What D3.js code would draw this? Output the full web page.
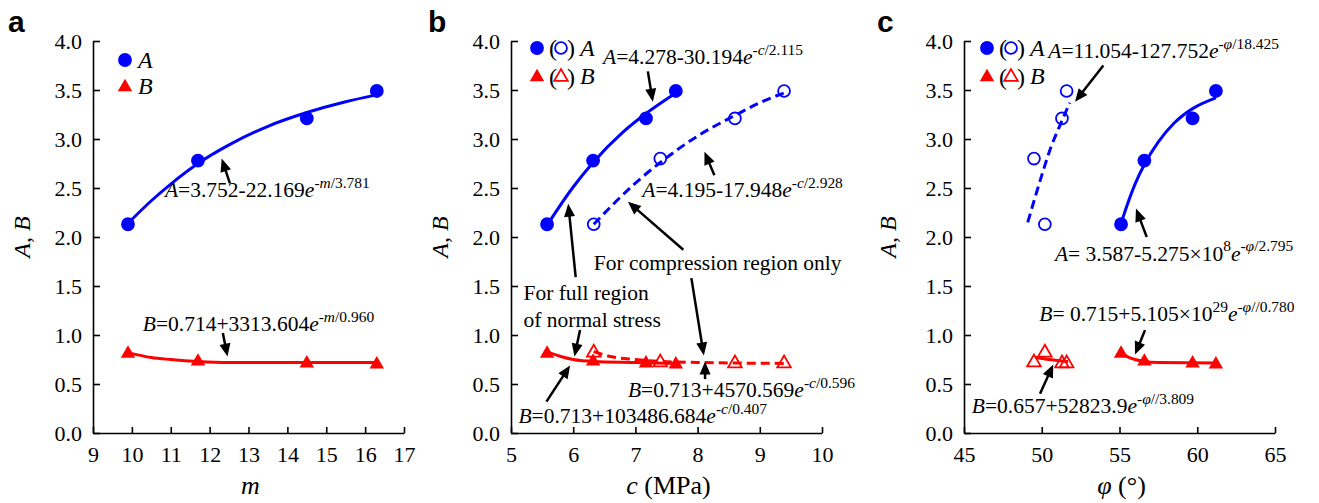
<!DOCTYPE html>
<html lang="en">
<head>
<meta charset="utf-8">
<title>A, B versus m, c and phi</title>
<script src="https://cdn.jsdelivr.net/npm/d3@7"></script>
<style>
body { margin: 0; background: #fff; }
</style>
</head>
<body>
<script>
// ---- values ----
var yTicks = [0, 0.5, 1, 1.5, 2, 2.5, 3, 3.5, 4];
var mTicks = [9, 10, 11, 12, 13, 14, 15, 16, 17];
var cTicks = [5, 6, 7, 8, 9, 10];
var phiTicks = [45, 50, 55, 60, 65];

var mVals   = [9.9, 11.7, 14.5, 16.3];
var cFull   = [5.58, 6.32, 7.17, 7.65];
var cComp   = [6.33, 7.40, 8.60, 9.39];
var phiFull = [55.1, 56.6, 59.7, 61.2];
var phiComp = [50.2, 49.5, 51.3, 51.6];

var aFull = [2.13, 2.78, 3.21, 3.49];
var bFull = [0.81, 0.73, 0.71, 0.70];
var aComp = [2.13, 2.80, 3.21, 3.49];
var bComp = [0.82, 0.72, 0.71, 0.71];

// fitted curves, sampled from the drawn lines
var fitAmX = [9.9, 10.5, 11, 11.7, 12.5, 13.5, 14.5, 15.5, 16.3];
var fitAmY = [2.14, 2.37, 2.54, 2.75, 2.94, 3.13, 3.27, 3.38, 3.45];
var fitBmX = [9.9, 10.5, 11, 11.7, 12.5, 16.3];
var fitBmY = [0.82, 0.77, 0.75, 0.73, 0.72, 0.72];

var fitAcFullX = [5.58, 6.0, 6.32, 6.8, 7.17, 7.65];
var fitAcFullY = [2.12, 2.51, 2.76, 3.07, 3.26, 3.47];
var fitAcCompX = [6.33, 7.0, 7.4, 8.0, 8.6, 9.0, 9.39];
var fitAcCompY = [2.13, 2.55, 2.76, 3.03, 3.24, 3.37, 3.47];
var fitBcFullX = [5.58, 5.8, 6.0, 6.33, 7.0, 7.65];
var fitBcFullY = [0.83, 0.78, 0.75, 0.73, 0.72, 0.71];
var fitBcCompX = [6.33, 6.6, 7.0, 7.4, 8.0, 9.39];
var fitBcCompY = [0.83, 0.78, 0.75, 0.73, 0.72, 0.71];

var fitApFullX = [55.1, 55.5, 56, 56.6, 57.5, 58.5, 59.7, 61.2];
var fitApFullY = [2.14, 2.33, 2.54, 2.74, 2.97, 3.16, 3.31, 3.42];
var fitApCompX = [49.1, 49.6, 50.1, 50.6, 51.2, 51.8];
var fitApCompY = [2.15, 2.42, 2.68, 2.92, 3.15, 3.37];
var fitBpFullX = [55.1, 55.5, 56, 56.6, 57.5, 61.2];
var fitBpFullY = [0.82, 0.78, 0.75, 0.73, 0.72, 0.715];
var fitBpCompX = [49.6, 50, 50.5, 51, 51.7];
var fitBpCompY = [0.77, 0.76, 0.75, 0.74, 0.73];

// ---- layout ----
var blue = "#0000ff", red = "#ff0000";
var serif = "'Liberation Serif', 'Times New Roman', Times, serif";
var sans = "'Liberation Sans', Arial, Helvetica, sans-serif";
var svg = d3.select("body").append("svg")
    .attr("width", 1319).attr("height", 503)
    .style("font-family", serif);

var y = d3.scaleLinear().domain([0, 4]).range([433, 41]);

function zip(xs, ys) { return xs.map(function(v, i) { return [v, ys[i]]; }); }

var panels = [
  {
    letter: "a", letterX: 8, titleX: 30,
    x: d3.scaleLinear().domain([9, 17]).range([93, 404]),
    ticks: mTicks, xTitle: [["m", true]],
    lines: [
      { d: zip(fitAmX, fitAmY), color: blue },
      { d: zip(fitBmX, fitBmY), color: red }
    ],
    marks: [
      { d: zip(mVals, aFull), shape: "circle", open: false, color: blue },
      { d: zip(mVals, bFull), shape: "triangle", open: false, color: red }
    ],
    legend: { x: 125, paren: false },
    notes: [
      { eq: "*A*=3.752-22.169*e*^{-*m*/3.781}", at: [10.85, 2.41] },
      { eq: "*B*=0.714+3313.604*e*^{-*m*/0.960}", at: [10.28, 1.04] }
    ],
    arrows: [
      [[12.52, 2.55], [12.31, 2.80]],
      [[12.34, 1.02], [12.46, 0.78]]
    ]
  },
  {
    letter: "b", letterX: 428, titleX: 448,
    x: d3.scaleLinear().domain([5, 10]).range([511, 822]),
    ticks: cTicks, xTitle: [["c", true], [" (MPa)", false]],
    lines: [
      { d: zip(fitAcFullX, fitAcFullY), color: blue },
      { d: zip(fitAcCompX, fitAcCompY), color: blue, dash: true },
      { d: zip(fitBcFullX, fitBcFullY), color: red },
      { d: zip(fitBcCompX, fitBcCompY), color: red, dash: true }
    ],
    marks: [
      { d: zip(cFull, aFull), shape: "circle", open: false, color: blue },
      { d: zip(cComp, aComp), shape: "circle", open: true, color: blue },
      { d: zip(cComp, bComp), shape: "triangle", open: true, color: red },
      { d: zip(cFull, bFull), shape: "triangle", open: false, color: red }
    ],
    legend: { x: 537, paren: true },
    notes: [
      { eq: "*A*=4.278-30.194*e*^{-*c*/2.115}", at: [6.48, 3.77] },
      { eq: "*A*=4.195-17.948*e*^{-*c*/2.928}", at: [7.11, 2.41] },
      { eq: "For compression region only", at: [6.33, 1.66] },
      { eq: "For full region", at: [5.20, 1.36] },
      { eq: "of normal stress", at: [5.20, 1.08] },
      { eq: "*B*=0.713+4570.569*e*^{-*c*/0.596}", at: [6.88, 0.37] },
      { eq: "*B*=0.713+103486.684*e*^{-*c*/0.407}", at: [5.12, 0.10] }
    ],
    arrows: [
      [[7.20, 3.69], [7.28, 3.38]],
      [[8.27, 2.63], [8.11, 2.87]],
      [[6.04, 1.59], [5.92, 2.34]],
      [[7.77, 1.87], [6.88, 2.36]],
      [[7.90, 1.58], [8.10, 0.79]],
      [[8.12, 0.55], [8.12, 0.73]],
      [[6.11, 1.05], [6.02, 0.78]],
      [[5.57, 0.32], [5.95, 0.69]]
    ]
  },
  {
    letter: "c", letterX: 877, titleX: 896,
    x: d3.scaleLinear().domain([45, 65]).range([964, 1275]),
    ticks: phiTicks, xTitle: [["\u03c6", true], [" (\u00b0)", false]],
    lines: [
      { d: zip(fitApFullX, fitApFullY), color: blue },
      { d: zip(fitApCompX, fitApCompY), color: blue, dash: true },
      { d: zip(fitBpFullX, fitBpFullY), color: red },
      { d: zip(fitBpCompX, fitBpCompY), color: red }
    ],
    marks: [
      { d: zip(phiFull, aFull), shape: "circle", open: false, color: blue },
      { d: zip(phiComp, aComp), shape: "circle", open: true, color: blue },
      { d: zip(phiComp, bComp), shape: "triangle", open: true, color: red },
      { d: zip(phiFull, bFull), shape: "triangle", open: false, color: red }
    ],
    legend: { x: 987, paren: true },
    notes: [
      { eq: "*A*=11.054-127.752*e*^{-*\u03c6*/18.425}", at: [50.42, 3.83] },
      { eq: "*A*= 3.587-5.275\u00d710^{8}*e*^{-*\u03c6*/2.795}", at: [50.85, 1.76] },
      { eq: "*B*= 0.715+5.105\u00d710^{29}*e*^{-*\u03c6*//0.780}", at: [49.84, 1.14] },
      { eq: "*B*=0.657+52823.9*e*^{-*\u03c6*//3.809}", at: [45.5, 0.20] }
    ],
    arrows: [
      [[53.96, 3.75], [52.14, 3.38]],
      [[56.75, 2.00], [56.06, 2.29]],
      [[56.64, 1.05], [56.0, 0.80]],
      [[49.89, 0.40], [50.74, 0.70]]
    ]
  }
];

// parse "*italic*" and "^{sup}" into tspans
function eqText(g, px, py, src, size) {
  var t = g.append("text").attr("x", px).attr("y", py)
    .style("font-family", serif).style("font-size", size + "px");
  var ital = false, sup = false, buf = "", curSup = false;
  function flush() {
    if (!buf) return;
    var s = t.append("tspan").text(buf);
    if (ital) s.style("font-style", "italic");
    if (sup) s.style("font-size", (size * 0.72) + "px");
    if (sup !== curSup) { s.attr("dy", sup ? -size * 0.42 : size * 0.42); curSup = sup; }
    buf = "";
  }
  for (var i = 0; i < src.length; i++) {
    var ch = src[i];
    if (ch === "*") { flush(); ital = !ital; }
    else if (ch === "^" && src[i + 1] === "{") { flush(); sup = true; i++; }
    else if (ch === "}" && sup) { flush(); sup = false; }
    else buf += ch;
  }
  flush();
  return t;
}

function arrow(g, x1, y1, x2, y2) {
  var dx = x2 - x1, dy = y2 - y1, L = Math.hypot(dx, dy), ux = dx / L, uy = dy / L;
  var hl = 13, hw = 5.5;
  var bx = x2 - ux * hl, by = y2 - uy * hl;
  g.append("line")
    .attr("x1", x1).attr("y1", y1).attr("x2", bx + ux * 2).attr("y2", by + uy * 2)
    .attr("stroke", "#000").attr("stroke-width", 2.5);
  g.append("path")
    .attr("d", "M" + x2 + "," + y2 + "L" + (bx - uy * hw) + "," + (by + ux * hw) +
               "L" + (bx + uy * hw) + "," + (by - ux * hw) + "Z")
    .attr("fill", "#000");
}

var circleSym = d3.symbol().type(d3.symbolCircle);
var triSym = d3.symbol().type(d3.symbolTriangle);

function marker(g, shape, open, color, px, py) {
  var p = g.append("path").attr("transform", "translate(" + px + "," + py + ")");
  if (shape === "circle") p.attr("d", circleSym.size(open ? 110 : 150)());
  else p.attr("d", triSym.size(open ? 80 : 90)());
  if (open) p.attr("fill", "none").attr("stroke", color).attr("stroke-width", 1.8);
  else p.attr("fill", color);
}

panels.forEach(function(p) {
  var g = svg.append("g");
  var x = p.x;

  // axes
  var ya = g.append("g").attr("transform", "translate(" + x.range()[0] + ",0)")
    .call(d3.axisLeft(y).tickValues(yTicks).tickFormat(d3.format(".1f"))
      .tickSizeInner(-7).tickSizeOuter(0).tickPadding(11));
  var xa = g.append("g").attr("transform", "translate(0," + y.range()[0] + ")")
    .call(d3.axisBottom(x).tickValues(p.ticks).tickFormat(d3.format("d"))
      .tickSizeInner(-6).tickSizeOuter(0).tickPadding(13));
  [ya, xa].forEach(function(a) {
    a.style("font-family", serif).style("font-size", "22px");
    a.selectAll("path, line").attr("stroke", "#000").attr("stroke-width", 1.6);
  });

  // panel letter
  g.append("text").attr("x", p.letterX).attr("y", 32)
    .style("font-family", sans)
    .style("font-weight", "bold").style("font-size", "30px").text(p.letter);

  // axis titles
  var yt = g.append("text")
    .attr("transform", "translate(" + p.titleX + "," + y(2) + ") rotate(-90)")
    .attr("text-anchor", "middle").style("font-size", "24px").style("font-style", "italic");
  yt.append("tspan").text("A");
  yt.append("tspan").style("font-style", "normal").text(", ");
  yt.append("tspan").text("B");

  var xt = g.append("text")
    .attr("x", (x.range()[0] + x.range()[1]) / 2 + 2).attr("y", 494)
    .attr("text-anchor", "middle").style("font-size", "26px");
  p.xTitle.forEach(function(s) {
    xt.append("tspan").style("font-style", s[1] ? "italic" : "normal").text(s[0]);
  });

  // fitted lines
  var line = d3.line().x(function(d) { return x(d[0]); }).y(function(d) { return y(d[1]); })
    .curve(d3.curveMonotoneX);
  p.lines.forEach(function(l) {
    g.append("path").attr("d", line(l.d)).attr("fill", "none")
      .attr("stroke", l.color).attr("stroke-width", 3)
      .attr("stroke-dasharray", l.dash ? "9,5" : null);
  });

  // data markers
  p.marks.forEach(function(m) {
    m.d.forEach(function(d) { marker(g, m.shape, m.open, m.color, x(d[0]), y(d[1])); });
  });

  // legend
  var lx = p.legend.x, rows = p.legend.paren ? [48, 77] : [60, 87];
  marker(g, "circle", false, blue, lx, rows[0]);
  marker(g, "triangle", false, red, lx, rows[1]);
  var labelX = lx + 13;
  if (p.legend.paren) {
    [[rows[0], "circle", blue], [rows[1], "triangle", red]].forEach(function(r) {
      g.append("text").attr("x", lx + 12).attr("y", r[0] + 8).style("font-size", "24px").text("(");
      marker(g, r[1], true, r[2], lx + 24, r[0]);
      g.append("text").attr("x", lx + 30).attr("y", r[0] + 8).style("font-size", "24px").text(")");
    });
    labelX = lx + 43;
  }
  g.append("text").attr("x", labelX).attr("y", rows[0] + 8)
    .style("font-size", "24px").style("font-style", "italic").text("A");
  g.append("text").attr("x", labelX).attr("y", rows[1] + 7)
    .style("font-size", "24px").style("font-style", "italic").text("B");

  // annotations
  p.notes.forEach(function(n) { eqText(g, x(n.at[0]), y(n.at[1]), n.eq, 21.5); });
  p.arrows.forEach(function(a) { arrow(g, x(a[0][0]), y(a[0][1]), x(a[1][0]), y(a[1][1])); });
});
</script>
</body>
</html>
